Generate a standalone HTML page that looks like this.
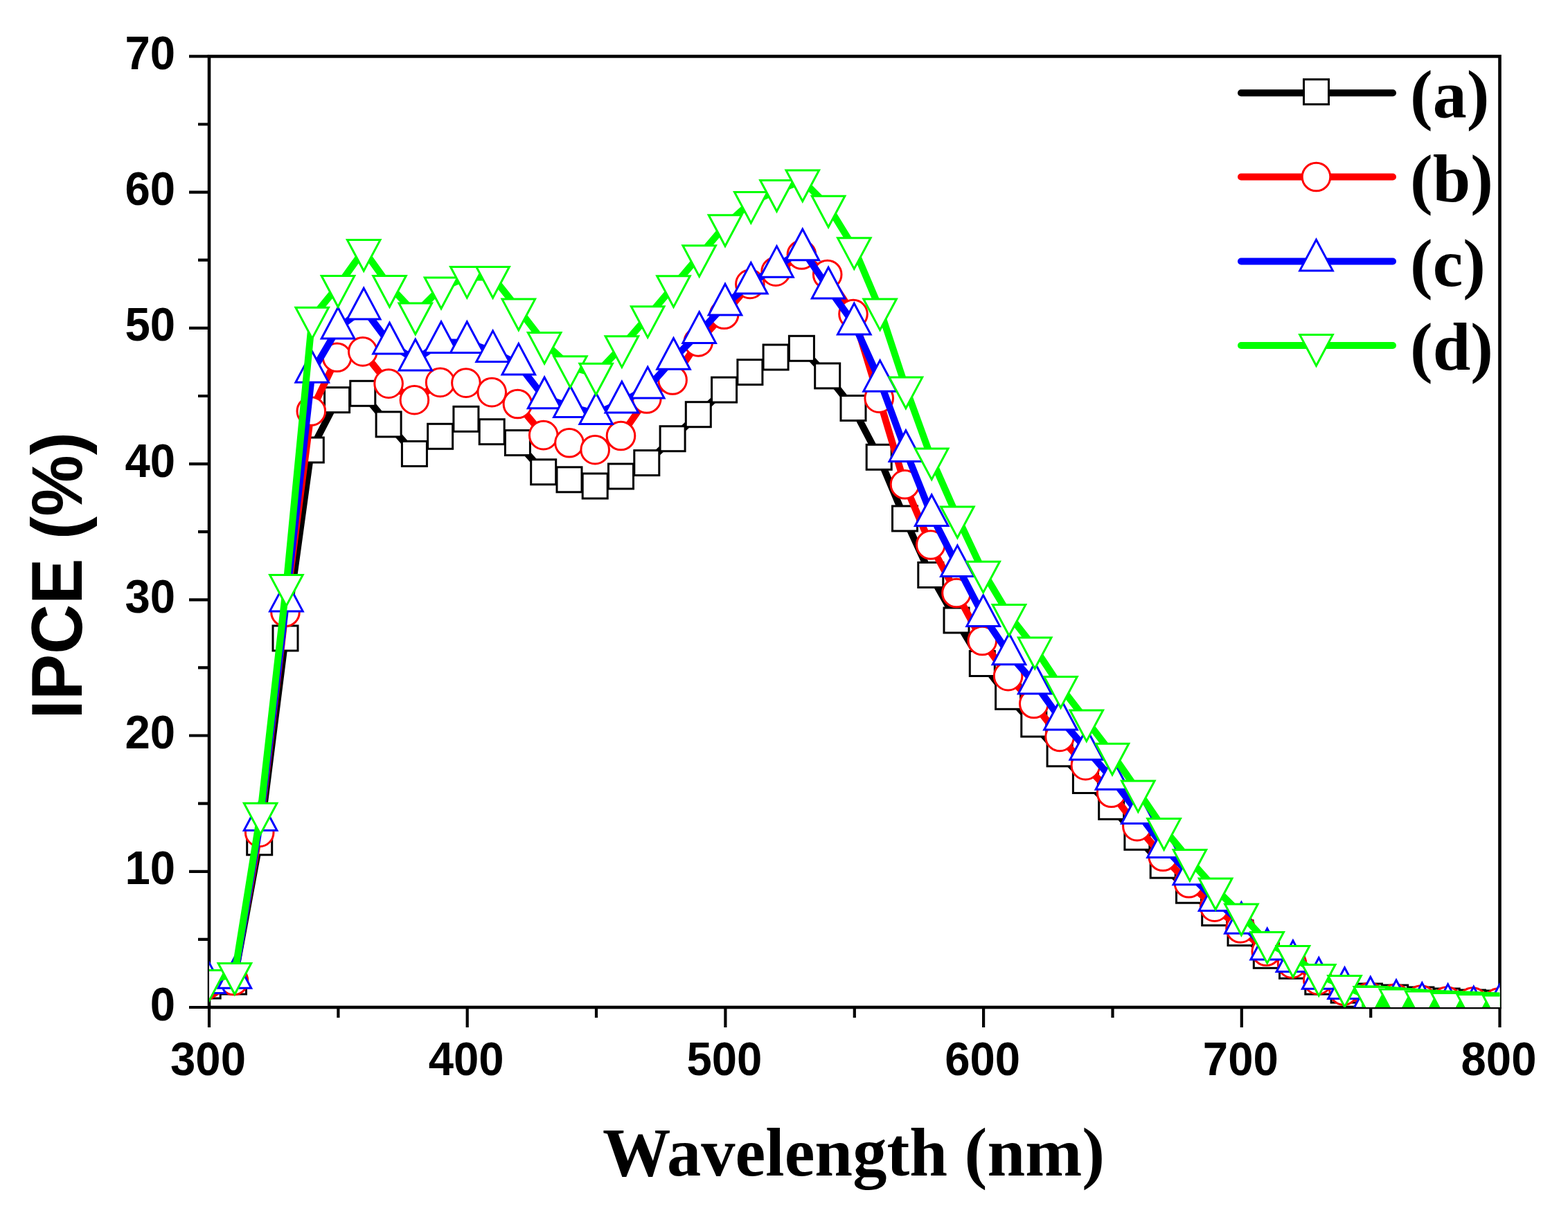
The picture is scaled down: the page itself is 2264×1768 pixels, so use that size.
<!DOCTYPE html>
<html><head><meta charset="utf-8"><title>IPCE vs Wavelength</title>
<style>
html,body{margin:0;padding:0;background:#fff;}
body{width:2264px;height:1768px;overflow:hidden;}
svg{display:block;}
.tick{font-family:"Liberation Sans",Arial,sans-serif;font-weight:bold;font-size:68px;fill:#000;}
.ytitle{font-family:"Liberation Sans",Arial,sans-serif;font-weight:bold;font-size:99.5px;fill:#000;}
.xtitle{font-family:"Liberation Serif","Times New Roman",serif;font-weight:bold;font-size:100px;fill:#000;}
.leg{font-family:"Liberation Serif","Times New Roman",serif;font-weight:bold;font-size:98px;fill:#000;}
</style></head><body>
<svg width="2264" height="1768" viewBox="0 0 2264 1768">
<rect width="2264" height="1768" fill="#fff"/>
<g stroke="#000" fill="none" stroke-linecap="butt">
<rect x="302" y="81.4" width="1863.5" height="1373.6" stroke-width="4.6"/>
<path d="M273 1455H302M273 1258.8H302M273 1062.5H302M273 866.3H302M273 670.1H302M273 473.9H302M273 277.6H302M273 81.4H302M286 1356.9H302M286 1160.7H302M286 964.4H302M286 768.2H302M286 572H302M286 375.7H302M286 179.5H302M302 1455V1484M674.7 1455V1484M1047.4 1455V1484M1420.1 1455V1484M1792.8 1455V1484M2165.5 1455V1484M488.4 1455V1470M861 1455V1470M1233.8 1455V1470M1606.5 1455V1470M1979.2 1455V1470" stroke-width="4.2"/>
</g>
<g class="tick" text-anchor="end">
<text transform="translate(253 1473.5) scale(0.96 1)">0</text>
<text transform="translate(253 1277.3) scale(0.96 1)">10</text>
<text transform="translate(253 1081) scale(0.96 1)">20</text>
<text transform="translate(253 884.8) scale(0.96 1)">30</text>
<text transform="translate(253 688.6) scale(0.96 1)">40</text>
<text transform="translate(253 492.4) scale(0.96 1)">50</text>
<text transform="translate(253 296.1) scale(0.96 1)">60</text>
<text transform="translate(253 99.9) scale(0.96 1)">70</text>
</g>
<g class="tick" text-anchor="middle">
<text transform="translate(300.5 1553) scale(0.96 1)">300</text>
<text transform="translate(673.2 1553) scale(0.96 1)">400</text>
<text transform="translate(1045.9 1553) scale(0.96 1)">500</text>
<text transform="translate(1418.6 1553) scale(0.96 1)">600</text>
<text transform="translate(1791.3 1553) scale(0.96 1)">700</text>
<text transform="translate(2164 1553) scale(0.96 1)">800</text>
</g>
<text class="ytitle" text-anchor="middle" transform="translate(117.6 831.5) rotate(-90) scale(1 1.04)">IPCE (%)</text>
<text class="xtitle" text-anchor="middle" transform="translate(1232.5 1698) scale(0.985 1)">Wavelength (nm)</text>
<defs><clipPath id="pc"><rect x="302" y="81.4" width="1863.5" height="1373.6"/></clipPath></defs>
<g clip-path="url(#pc)">
<polyline points="300.2,1424 337.5,1418 374.7,1216.8 412,921.9 449.3,650 486.6,577.7 523.8,568.3 561.1,612.9 598.4,655.4 635.6,630.3 672.9,605.3 710.2,623.7 747.4,639.6 784.7,681.8 822,692.8 859.2,702 896.5,688 933.8,668.6 971.1,633.7 1008.3,598.7 1045.6,563.1 1082.9,537.6 1120.1,516 1157.4,503.3 1194.7,542.9 1232,589.5 1269.2,660.3 1306.5,749 1343.8,830.5 1381,896 1418.3,958.5 1455.6,1006.3 1492.8,1046 1530.1,1088.8 1567.4,1127.5 1604.7,1165.3 1641.9,1209.3 1679.2,1250.1 1716.5,1286.2 1753.7,1318.7 1791,1347.7 1828.3,1380.3 1865.5,1395.2 1902.8,1418.1 1940.1,1430.2 1977.4,1439 2014.6,1441 2051.9,1444 2089.2,1446 2126.4,1448 2163.7,1449" fill="none" stroke="#000" stroke-width="10" stroke-linejoin="round"/>
<g fill="#fff" stroke="#000" stroke-width="3.0"><rect x="282.2" y="1406" width="36" height="36"/><rect x="319.5" y="1400" width="36" height="36"/><rect x="356.7" y="1198.8" width="36" height="36"/><rect x="394" y="903.9" width="36" height="36"/><rect x="431.3" y="632" width="36" height="36"/><rect x="468.6" y="559.7" width="36" height="36"/><rect x="505.8" y="550.3" width="36" height="36"/><rect x="543.1" y="594.9" width="36" height="36"/><rect x="580.4" y="637.4" width="36" height="36"/><rect x="617.6" y="612.3" width="36" height="36"/><rect x="654.9" y="587.3" width="36" height="36"/><rect x="692.2" y="605.7" width="36" height="36"/><rect x="729.4" y="621.6" width="36" height="36"/><rect x="766.7" y="663.8" width="36" height="36"/><rect x="804" y="674.8" width="36" height="36"/><rect x="841.2" y="684" width="36" height="36"/><rect x="878.5" y="670" width="36" height="36"/><rect x="915.8" y="650.6" width="36" height="36"/><rect x="953.1" y="615.7" width="36" height="36"/><rect x="990.3" y="580.7" width="36" height="36"/><rect x="1027.6" y="545.1" width="36" height="36"/><rect x="1064.9" y="519.6" width="36" height="36"/><rect x="1102.1" y="498" width="36" height="36"/><rect x="1139.4" y="485.3" width="36" height="36"/><rect x="1176.7" y="524.9" width="36" height="36"/><rect x="1214" y="571.5" width="36" height="36"/><rect x="1251.2" y="642.3" width="36" height="36"/><rect x="1288.5" y="731" width="36" height="36"/><rect x="1325.8" y="812.5" width="36" height="36"/><rect x="1363" y="878" width="36" height="36"/><rect x="1400.3" y="940.5" width="36" height="36"/><rect x="1437.6" y="988.3" width="36" height="36"/><rect x="1474.8" y="1028" width="36" height="36"/><rect x="1512.1" y="1070.8" width="36" height="36"/><rect x="1549.4" y="1109.5" width="36" height="36"/><rect x="1586.7" y="1147.3" width="36" height="36"/><rect x="1623.9" y="1191.3" width="36" height="36"/><rect x="1661.2" y="1232.1" width="36" height="36"/><rect x="1698.5" y="1268.2" width="36" height="36"/><rect x="1735.7" y="1300.7" width="36" height="36"/><rect x="1773" y="1329.7" width="36" height="36"/><rect x="1810.3" y="1362.3" width="36" height="36"/><rect x="1847.5" y="1377.2" width="36" height="36"/><rect x="1884.8" y="1400.1" width="36" height="36"/><rect x="1922.1" y="1412.2" width="36" height="36"/><rect x="1959.4" y="1421" width="36" height="36"/><rect x="1996.6" y="1423" width="36" height="36"/><rect x="2033.9" y="1426" width="36" height="36"/><rect x="2071.2" y="1428" width="36" height="36"/><rect x="2108.4" y="1430" width="36" height="36"/><rect x="2145.7" y="1431" width="36" height="36"/></g>
<polyline points="300.2,1441 337.5,1416.5 374.7,1202.4 412,884.3 449.3,594 486.6,516.3 523.8,507.9 561.1,554.1 598.4,577.7 635.6,552.4 672.9,553.1 710.2,566.6 747.4,583.5 784.7,628.6 822,639.8 859.2,649.7 896.5,629.5 933.8,576 971.1,549 1008.3,493.9 1045.6,454.3 1082.9,410.4 1120.1,392.2 1157.4,368 1194.7,396.5 1232,453.6 1269.2,575.2 1306.5,699.8 1343.8,787 1381,856.5 1418.3,925.5 1455.6,976.6 1492.8,1016.5 1530.1,1064.4 1567.4,1105.7 1604.7,1145.3 1641.9,1193.6 1679.2,1237.3 1716.5,1275.8 1753.7,1310.1 1791,1340.9 1828.3,1374.3 1865.5,1391.9 1902.8,1415.6 1940.1,1431 1977.4,1440 2014.6,1442 2051.9,1444 2089.2,1446 2126.4,1447 2163.7,1448" fill="none" stroke="#f00" stroke-width="10" stroke-linejoin="round"/>
<g fill="#fff" stroke="#f00" stroke-width="3.0"><circle cx="337.5" cy="1416.5" r="20.3"/><circle cx="374.7" cy="1202.4" r="20.3"/><circle cx="412" cy="884.3" r="20.3"/><circle cx="449.3" cy="594" r="20.3"/><circle cx="486.6" cy="516.3" r="20.3"/><circle cx="523.8" cy="507.9" r="20.3"/><circle cx="561.1" cy="554.1" r="20.3"/><circle cx="598.4" cy="577.7" r="20.3"/><circle cx="635.6" cy="552.4" r="20.3"/><circle cx="672.9" cy="553.1" r="20.3"/><circle cx="710.2" cy="566.6" r="20.3"/><circle cx="747.4" cy="583.5" r="20.3"/><circle cx="784.7" cy="628.6" r="20.3"/><circle cx="822" cy="639.8" r="20.3"/><circle cx="859.2" cy="649.7" r="20.3"/><circle cx="896.5" cy="629.5" r="20.3"/><circle cx="933.8" cy="576" r="20.3"/><circle cx="971.1" cy="549" r="20.3"/><circle cx="1008.3" cy="493.9" r="20.3"/><circle cx="1045.6" cy="454.3" r="20.3"/><circle cx="1082.9" cy="410.4" r="20.3"/><circle cx="1120.1" cy="392.2" r="20.3"/><circle cx="1157.4" cy="368" r="20.3"/><circle cx="1194.7" cy="396.5" r="20.3"/><circle cx="1232" cy="453.6" r="20.3"/><circle cx="1269.2" cy="575.2" r="20.3"/><circle cx="1306.5" cy="699.8" r="20.3"/><circle cx="1343.8" cy="787" r="20.3"/><circle cx="1381" cy="856.5" r="20.3"/><circle cx="1418.3" cy="925.5" r="20.3"/><circle cx="1455.6" cy="976.6" r="20.3"/><circle cx="1492.8" cy="1016.5" r="20.3"/><circle cx="1530.1" cy="1064.4" r="20.3"/><circle cx="1567.4" cy="1105.7" r="20.3"/><circle cx="1604.7" cy="1145.3" r="20.3"/><circle cx="1641.9" cy="1193.6" r="20.3"/><circle cx="1679.2" cy="1237.3" r="20.3"/><circle cx="1716.5" cy="1275.8" r="20.3"/><circle cx="1753.7" cy="1310.1" r="20.3"/><circle cx="1791" cy="1340.9" r="20.3"/><circle cx="1828.3" cy="1374.3" r="20.3"/><circle cx="1865.5" cy="1391.9" r="20.3"/><circle cx="1902.8" cy="1415.6" r="20.3"/><circle cx="1940.1" cy="1431" r="20.3"/><circle cx="1977.4" cy="1440" r="20.3"/><circle cx="2014.6" cy="1442" r="20.3"/><circle cx="2051.9" cy="1444" r="20.3"/><circle cx="2089.2" cy="1446" r="20.3"/><circle cx="2126.4" cy="1447" r="20.3"/><circle cx="2163.7" cy="1448" r="20.3"/></g>
<polyline points="301.6,1419.7 338.9,1412.3 376.1,1184.6 413.4,868 450.7,537.4 488,474.1 525.2,446 562.5,496.1 599.8,520.1 637,494.5 674.3,494.5 711.6,507.7 748.8,526.2 786.1,574.8 823.4,587.6 860.6,597.6 897.9,581.1 935.2,560.1 972.5,518.3 1009.7,480.5 1047,440.1 1084.3,409.2 1121.5,385.4 1158.8,360.8 1196.1,416.1 1233.3,468 1270.6,550.4 1307.9,651.5 1345.2,744.6 1382.4,817.7 1419.7,889.5 1457,944.9 1494.2,987.1 1531.5,1039.2 1568.8,1082.3 1606,1125.3 1643.3,1174.6 1680.6,1223.6 1717.9,1262.9 1755.1,1300.7 1792.4,1333.3 1829.7,1371.1 1866.9,1388.6 1904.2,1413.3 1941.5,1427.6 1978.8,1441.1 2016,1445.6 2053.3,1449.6 2090.6,1451.6 2127.8,1455.1 2165.1,1452.1" fill="none" stroke="#00f" stroke-width="10" stroke-linejoin="round"/>
<g fill="#fff" stroke="#00f" stroke-width="3.0"><path d="M301.6 1389.9L325.4 1434.6L277.8 1434.6Z"/><path d="M338.9 1382.5L362.7 1427.2L315.1 1427.2Z"/><path d="M376.1 1154.8L399.9 1199.5L352.3 1199.5Z"/><path d="M413.4 838.2L437.2 882.9L389.6 882.9Z"/><path d="M450.7 507.6L474.5 552.3L426.9 552.3Z"/><path d="M488 444.3L511.8 489L464.2 489Z"/><path d="M525.2 416.2L549 460.9L501.4 460.9Z"/><path d="M562.5 466.3L586.3 511L538.7 511Z"/><path d="M599.8 490.3L623.6 535L576 535Z"/><path d="M637 464.7L660.8 509.4L613.2 509.4Z"/><path d="M674.3 464.7L698.1 509.4L650.5 509.4Z"/><path d="M711.6 477.9L735.4 522.6L687.8 522.6Z"/><path d="M748.8 496.4L772.6 541.1L725 541.1Z"/><path d="M786.1 545L809.9 589.7L762.3 589.7Z"/><path d="M823.4 557.8L847.2 602.5L799.6 602.5Z"/><path d="M860.6 567.8L884.4 612.5L836.9 612.5Z"/><path d="M897.9 551.3L921.7 596L874.1 596Z"/><path d="M935.2 530.3L959 575L911.4 575Z"/><path d="M972.5 488.5L996.3 533.2L948.7 533.2Z"/><path d="M1009.7 450.7L1033.5 495.4L985.9 495.4Z"/><path d="M1047 410.3L1070.8 455L1023.2 455Z"/><path d="M1084.3 379.4L1108.1 424.1L1060.5 424.1Z"/><path d="M1121.5 355.6L1145.3 400.3L1097.7 400.3Z"/><path d="M1158.8 331L1182.6 375.7L1135 375.7Z"/><path d="M1196.1 386.3L1219.9 431L1172.3 431Z"/><path d="M1233.3 438.2L1257.1 482.9L1209.5 482.9Z"/><path d="M1270.6 520.6L1294.4 565.3L1246.8 565.3Z"/><path d="M1307.9 621.7L1331.7 666.4L1284.1 666.4Z"/><path d="M1345.2 714.8L1369 759.5L1321.4 759.5Z"/><path d="M1382.4 787.9L1406.2 832.6L1358.6 832.6Z"/><path d="M1419.7 859.7L1443.5 904.4L1395.9 904.4Z"/><path d="M1457 915.1L1480.8 959.8L1433.2 959.8Z"/><path d="M1494.2 957.3L1518 1002L1470.4 1002Z"/><path d="M1531.5 1009.4L1555.3 1054.1L1507.7 1054.1Z"/><path d="M1568.8 1052.5L1592.6 1097.2L1545 1097.2Z"/><path d="M1606 1095.5L1629.8 1140.2L1582.2 1140.2Z"/><path d="M1643.3 1144.8L1667.1 1189.5L1619.5 1189.5Z"/><path d="M1680.6 1193.8L1704.4 1238.5L1656.8 1238.5Z"/><path d="M1717.9 1233.1L1741.7 1277.8L1694.1 1277.8Z"/><path d="M1755.1 1270.9L1778.9 1315.6L1731.3 1315.6Z"/><path d="M1792.4 1303.5L1816.2 1348.2L1768.6 1348.2Z"/><path d="M1829.7 1341.3L1853.5 1386L1805.9 1386Z"/><path d="M1866.9 1358.8L1890.7 1403.5L1843.1 1403.5Z"/><path d="M1904.2 1383.5L1928 1428.2L1880.4 1428.2Z"/><path d="M1941.5 1397.8L1965.3 1442.5L1917.7 1442.5Z"/><path d="M1978.8 1411.3L2002.5 1456L1955 1456Z"/><path d="M2016 1415.8L2039.8 1460.5L1992.2 1460.5Z"/><path d="M2053.3 1419.8L2077.1 1464.5L2029.5 1464.5Z"/><path d="M2090.6 1421.8L2114.4 1466.5L2066.8 1466.5Z"/><path d="M2127.8 1425.3L2151.6 1470L2104 1470Z"/><path d="M2165.1 1422.3L2188.9 1467L2141.3 1467Z"/></g>
<polyline points="301.6,1416.3 338.9,1406.4 376.1,1175.1 413.4,845.3 450.7,459.1 488,413.4 525.2,361.5 562.5,413.4 599.8,452.9 637,415.9 674.3,400.3 711.6,400.4 748.8,447 786.1,495.3 823.4,529.6 860.6,540.2 897.9,500.6 935.2,457.6 972.5,413.6 1009.7,369.6 1047,325.7 1084.3,292.3 1121.5,275.4 1158.8,260.9 1196.1,298.2 1233.3,358.6 1270.6,446.8 1307.9,560 1345.2,662.8 1382.4,746.9 1419.7,826.1 1457,888.5 1494.2,936 1531.5,992.4 1568.8,1040.8 1606,1089.2 1643.3,1142.8 1680.6,1197.5 1717.9,1242.4 1755.1,1283.9 1792.4,1320.9 1829.7,1361.3 1866.9,1381.5 1904.2,1408.3 1941.5,1424.4 1978.8,1440.4 2016,1443.9 2053.3,1446.9 2090.6,1449.4 2127.8,1451.4 2165.1,1452.9" fill="none" stroke="#0f0" stroke-width="10" stroke-linejoin="round"/>
<path d="M1952 1428.5L1992 1429L2029 1432L2066 1435L2166 1439" fill="none" stroke="#0f0" stroke-width="11"/>
<path d="M1966 1449H2166" fill="none" stroke="#0f0" stroke-width="14"/>
<g fill="#fff" stroke="#0f0" stroke-width="3.0"><path d="M301.6 1446.1L325.4 1401.4L277.8 1401.4Z"/><path d="M338.9 1436.2L362.7 1391.5L315.1 1391.5Z"/><path d="M376.1 1204.9L399.9 1160.2L352.3 1160.2Z"/><path d="M413.4 875.1L437.2 830.4L389.6 830.4Z"/><path d="M450.7 488.9L474.5 444.2L426.9 444.2Z"/><path d="M488 443.2L511.8 398.5L464.2 398.5Z"/><path d="M525.2 391.3L549 346.6L501.4 346.6Z"/><path d="M562.5 443.2L586.3 398.5L538.7 398.5Z"/><path d="M599.8 482.7L623.6 438L576 438Z"/><path d="M637 445.7L660.8 401L613.2 401Z"/><path d="M674.3 430.1L698.1 385.4L650.5 385.4Z"/><path d="M711.6 430.2L735.4 385.5L687.8 385.5Z"/><path d="M748.8 476.8L772.6 432.1L725 432.1Z"/><path d="M786.1 525.1L809.9 480.4L762.3 480.4Z"/><path d="M823.4 559.4L847.2 514.7L799.6 514.7Z"/><path d="M860.6 570L884.4 525.3L836.9 525.3Z"/><path d="M897.9 530.4L921.7 485.7L874.1 485.7Z"/><path d="M935.2 487.4L959 442.7L911.4 442.7Z"/><path d="M972.5 443.4L996.3 398.7L948.7 398.7Z"/><path d="M1009.7 399.4L1033.5 354.7L985.9 354.7Z"/><path d="M1047 355.5L1070.8 310.8L1023.2 310.8Z"/><path d="M1084.3 322.1L1108.1 277.4L1060.5 277.4Z"/><path d="M1121.5 305.2L1145.3 260.5L1097.7 260.5Z"/><path d="M1158.8 290.7L1182.6 246L1135 246Z"/><path d="M1196.1 328L1219.9 283.3L1172.3 283.3Z"/><path d="M1233.3 388.4L1257.1 343.7L1209.5 343.7Z"/><path d="M1270.6 476.6L1294.4 431.9L1246.8 431.9Z"/><path d="M1307.9 589.8L1331.7 545.1L1284.1 545.1Z"/><path d="M1345.2 692.6L1369 647.9L1321.4 647.9Z"/><path d="M1382.4 776.7L1406.2 732L1358.6 732Z"/><path d="M1419.7 855.9L1443.5 811.2L1395.9 811.2Z"/><path d="M1457 918.3L1480.8 873.6L1433.2 873.6Z"/><path d="M1494.2 965.8L1518 921.1L1470.4 921.1Z"/><path d="M1531.5 1022.2L1555.3 977.5L1507.7 977.5Z"/><path d="M1568.8 1070.6L1592.6 1025.9L1545 1025.9Z"/><path d="M1606 1119L1629.8 1074.3L1582.2 1074.3Z"/><path d="M1643.3 1172.6L1667.1 1127.9L1619.5 1127.9Z"/><path d="M1680.6 1227.3L1704.4 1182.6L1656.8 1182.6Z"/><path d="M1717.9 1272.2L1741.7 1227.5L1694.1 1227.5Z"/><path d="M1755.1 1313.7L1778.9 1269L1731.3 1269Z"/><path d="M1792.4 1350.7L1816.2 1306L1768.6 1306Z"/><path d="M1829.7 1391.1L1853.5 1346.4L1805.9 1346.4Z"/><path d="M1866.9 1411.3L1890.7 1366.6L1843.1 1366.6Z"/><path d="M1904.2 1438.1L1928 1393.4L1880.4 1393.4Z"/><path d="M1941.5 1454.2L1965.3 1409.5L1917.7 1409.5Z"/><path d="M1978.8 1470.2L2002.5 1425.5L1955 1425.5Z"/><path d="M2016 1473.7L2039.8 1429L1992.2 1429Z"/><path d="M2053.3 1476.7L2077.1 1432L2029.5 1432Z"/><path d="M2090.6 1479.2L2114.4 1434.5L2066.8 1434.5Z"/><path d="M2127.8 1481.2L2151.6 1436.5L2104 1436.5Z"/><path d="M2165.1 1482.7L2188.9 1438L2141.3 1438Z"/></g>
</g>
<g>
<line x1="1792" y1="134.2" x2="2011" y2="134.2" stroke="#000" stroke-width="10" stroke-linecap="round"/>
<g fill="#fff" stroke="#000" stroke-width="3.0"><rect x="1882.5" y="114.7" width="36" height="36"/></g>
<text class="leg" x="2036" y="169.2">(a)</text>
<line x1="1792" y1="255.5" x2="2011" y2="255.5" stroke="#f00" stroke-width="10" stroke-linecap="round"/>
<g fill="#fff" stroke="#f00" stroke-width="3.0"><circle cx="1900.5" cy="255.5" r="20.3"/></g>
<text class="leg" x="2036" y="290.5">(b)</text>
<line x1="1792" y1="377.5" x2="2011" y2="377.5" stroke="#00f" stroke-width="10" stroke-linecap="round"/>
<g fill="#fff" stroke="#00f" stroke-width="3.0"><path d="M1900.5 346.2L1924.3 390.9L1876.7 390.9Z"/></g>
<text class="leg" x="2036" y="412.5">(c)</text>
<line x1="1792" y1="499" x2="2011" y2="499" stroke="#0f0" stroke-width="10" stroke-linecap="round"/>
<g fill="#fff" stroke="#0f0" stroke-width="3.0"><path d="M1900.5 528.3L1924.3 483.6L1876.7 483.6Z"/></g>
<text class="leg" x="2036" y="534">(d)</text>
</g>
</svg>
</body></html>
